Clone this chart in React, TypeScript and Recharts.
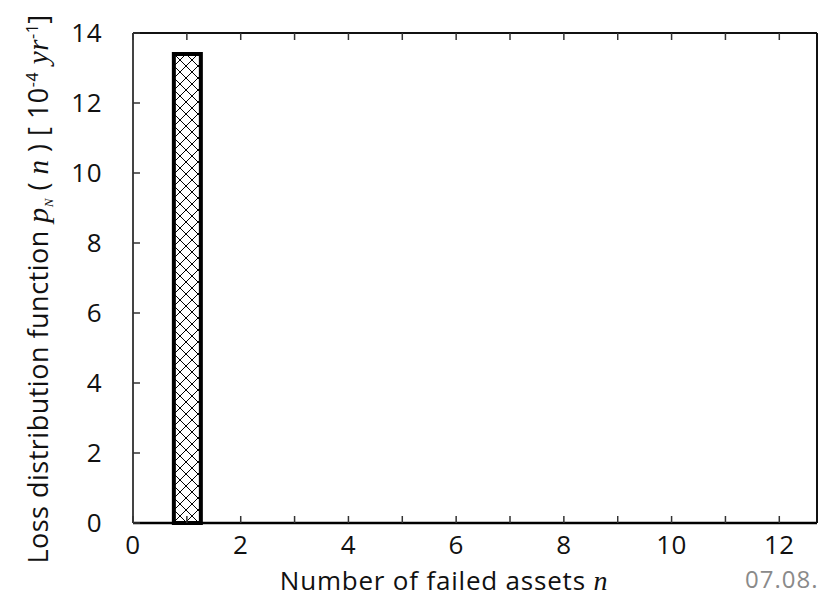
import { BarChart, Bar, XAxis, YAxis } from 'recharts'

const failedAssets = [1]
const lossProb = [13.4]
const xTicks = [0, 1, 2, 3, 4, 5, 6, 7, 8, 9, 10, 11, 12]
const yTicks = [0, 2, 4, 6, 8, 10, 12, 14]

const data = failedAssets.map((n, i) => ({ n, p: lossProb[i] }))

const FONT = '"Open Sans", "Noto Sans", sans-serif'
const SERIF = '"Liberation Serif", "DejaVu Serif", serif'
const AXIS = '#333'

function BottomTick({ x, y, payload }: any) {
  return (
    <g>
      <line x1={x} x2={x} y1={y} y2={y - 7} stroke={AXIS} strokeWidth={1.5} />
      {payload.value % 2 === 0 && (
        <text x={x} y={y + 31} textAnchor="middle" fontFamily={FONT} fontSize={26} fill="#111" letterSpacing={0.5}>
          {payload.value}
        </text>
      )}
    </g>
  )
}

function TopTick({ x, y }: any) {
  return <line x1={x} x2={x} y1={y} y2={y + 7} stroke={AXIS} strokeWidth={1.5} />
}

function LeftTick({ x, y, payload }: any) {
  return (
    <g>
      <line x1={x} x2={x + 7} y1={y} y2={y} stroke={AXIS} strokeWidth={1.5} />
      <text x={x - 31} y={y + 9} textAnchor="end" fontFamily={FONT} fontSize={26} fill="#111" letterSpacing={0.5}>
        {payload.value}
      </text>
    </g>
  )
}

function RightTick({ x, y }: any) {
  return <line x1={x} x2={x - 7} y1={y} y2={y} stroke={AXIS} strokeWidth={1.5} />
}

export default function App() {
  return (
    <div style={{ position: 'absolute', left: 0, top: 0, width: 825, height: 600, background: '#fff' }}>
      <BarChart width={825} height={600} data={data} margin={{ top: 32, right: 7, bottom: 7, left: 53 }}>
        <defs>
          <pattern id="xhatch" width="12" height="12" patternUnits="userSpaceOnUse">
            <path d="M0,0 L12,12 M12,0 L0,12" stroke="#000" strokeWidth={1} />
          </pattern>
        </defs>
        <XAxis
          xAxisId="b"
          dataKey="n"
          type="number"
          domain={[0, 12.7]}
          ticks={xTicks}
          interval={0}
          height={70}
          tickSize={0}
          tickMargin={0}
          tick={<BottomTick />}
          axisLine={{ stroke: '#000', strokeWidth: 2.5 }}
          tickLine={false}
        />
        <XAxis
          xAxisId="t"
          orientation="top"
          dataKey="n"
          type="number"
          domain={[0, 12.7]}
          ticks={xTicks}
          interval={0}
          height={1}
          tickSize={0}
          tickMargin={0}
          tick={<TopTick />}
          axisLine={{ stroke: '#111', strokeWidth: 2 }}
          tickLine={false}
        />
        <YAxis
          yAxisId="l"
          type="number"
          domain={[0, 14]}
          ticks={yTicks}
          interval={0}
          width={80}
          tickSize={0}
          tickMargin={0}
          tick={<LeftTick />}
          axisLine={{ stroke: '#444', strokeWidth: 2 }}
          tickLine={false}
        />
        <YAxis
          yAxisId="r"
          orientation="right"
          type="number"
          domain={[0, 14]}
          ticks={yTicks}
          interval={0}
          width={1}
          tickSize={0}
          tickMargin={0}
          tick={<RightTick />}
          axisLine={{ stroke: '#111', strokeWidth: 2 }}
          tickLine={false}
        />
        <Bar
          xAxisId="b"
          yAxisId="l"
          dataKey="p"
          barSize={27}
          fill="url(#xhatch)"
          stroke="#000"
          strokeWidth={4}
          isAnimationActive={false}
        />
      </BarChart>
      <svg width={825} height={600} style={{ position: 'absolute', left: 0, top: 0, pointerEvents: 'none' }}>
        <text x={444} y={590} textAnchor="middle" fontFamily={FONT} fontSize={26} fill="#111" letterSpacing={0.8}>
          Number of failed assets <tspan fontFamily={SERIF} fontStyle="italic" fontSize={28}>n</tspan>
        </text>
        <text
          transform="rotate(-90)"
          x={-289}
          y={48}
          textAnchor="middle"
          fontFamily={FONT}
          fontSize={27}
          fill="#111"
          letterSpacing={0.5}
        >
          Loss distribution function{' '}
          <tspan fontFamily={SERIF} fontStyle="italic" fontSize={30}>p</tspan>
          <tspan fontFamily={SERIF} fontStyle="italic" fontSize={13} dy={5}>N</tspan>
          <tspan dy={-5}> ( </tspan>
          <tspan fontFamily={SERIF} fontStyle="italic" fontSize={29}>n</tspan>
          <tspan> ) [ 10</tspan>
          <tspan fontSize={16} dy={-10}>-4</tspan>
          <tspan fontFamily={SERIF} fontStyle="italic" fontSize={29} dy={10}> yr</tspan>
          <tspan fontSize={16} dy={-10}>-1</tspan>
          <tspan dy={10}>]</tspan>
        </text>
        <text x={745} y={588} fontFamily={FONT} fontSize={24} fill="#8a8a8a" letterSpacing={1}>
          07.08.
        </text>
      </svg>
    </div>
  )
}
